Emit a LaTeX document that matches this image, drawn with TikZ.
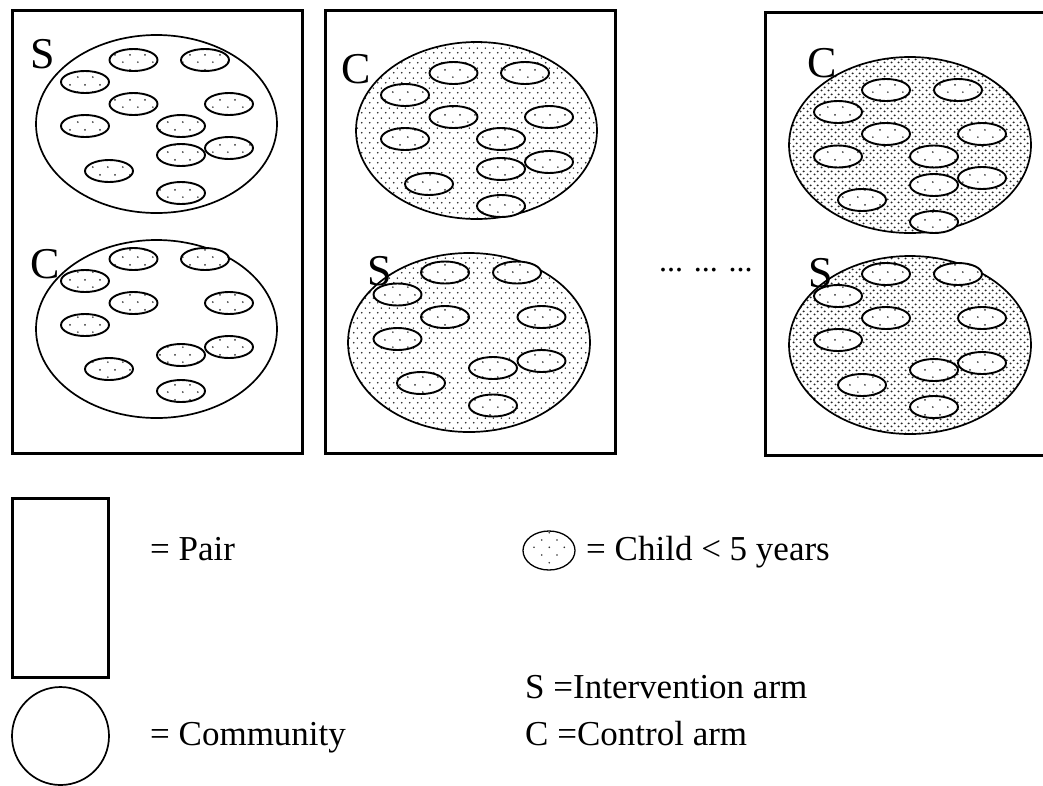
\documentclass[tikz,border=0pt]{standalone}
\usepackage{fontspec}
\setmainfont{Liberation Serif}
\usetikzlibrary{patterns.meta}

\tikzdeclarepattern{name=kiddots, type=uncolored,
  bounding box={(0pt,0pt) and (15pt,15pt)}, tile size={(15pt,15pt)},
  code={\fill (3pt,3pt) circle (1pt); \fill (10.5pt,10.5pt) circle (1pt);}}
\tikzdeclarepattern{name=sparsedots, type=uncolored,
  bounding box={(0pt,0pt) and (8pt,10pt)}, tile size={(8pt,10pt)},
  code={\fill (2pt,2.5pt) circle (0.95pt); \fill (6pt,7.5pt) circle (0.95pt);}}
\tikzdeclarepattern{name=densedots, type=uncolored,
  bounding box={(0pt,0pt) and (6.6pt,7pt)}, tile size={(6.6pt,7pt)},
  code={\fill (1.65pt,1.75pt) circle (1.15pt); \fill (4.95pt,5.25pt) circle (1.15pt);}}

\newcommand\kidell[2]{\draw[kid] (#1,#2) ellipse [x radius=24, y radius=11];}

\begin{document}
\begin{tikzpicture}[x=1pt,y=-1pt,
  pairbox/.style={line width=3pt},
  community/.style={line width=1.7pt},
  kid/.style={line width=1.9pt, preaction={fill=white}, pattern=kiddots, pattern color=black!80},
  lbl/.style={inner sep=0pt, anchor=base west, font=\fontsize{44}{44}\selectfont},
  leg/.style={inner sep=0pt, anchor=base west, font=\fontsize{35}{35}\selectfont}]
\useasboundingbox (0,0) rectangle (1043,785);
\clip (0,0) rectangle (1043,785);

% ---------------- pair boxes
\draw[pairbox] (12,10) rectangle (302,453);
\draw[pairbox] (325,10) rectangle (615,453);
\draw[pairbox] (765,12) rectangle (1050,455);

% ---------------- box 1 : S
\draw[community] (156.5,124) ellipse [x radius=120.5, y radius=89];
\foreach \a/\b in {133.5/60,205/60,85/82,133.5/104,229/104,85/126,181/126,181/155,229/148,109/171,181/193}
  {\kidell{\a}{\b}}
\node[lbl] (s1) at (30,68) {S};

% ---------------- box 1 : C
\draw[community] (156.5,329) ellipse [x radius=120.5, y radius=89];
\foreach \a/\b in {133.5/259,205/259,85/281,133.5/303,229/303,85/325,181/355,229/347,109/369,181/391}
  {\kidell{\a}{\b}}
\node[lbl] (c1) at (30,278) {C};

% ---------------- box 2 : C
\draw[community, pattern=sparsedots, pattern color=black!85] (476.5,130.5) ellipse [x radius=120.5, y radius=88.5];
\foreach \a/\b in {453.5/73,525/73,405/95,453.5/117,549/117,405/139,501/139,501/169,549/162,429/184,501/206}
  {\kidell{\a}{\b}}
\node[lbl] (c2) at (341,83) {C};

% ---------------- box 2 : S
\draw[community, pattern=sparsedots, pattern color=black!85] (469,342.5) ellipse [x radius=121, y radius=89.5];
\foreach \a/\b in {445/272.5,517/272.5,397.5/294.5,445/317,541.5/317,397.5/339,493/368,541.5/361,421/383,493/405.5}
  {\kidell{\a}{\b}}
\node[lbl] (s2) at (367,285) {S};

% ---------------- box 3 : C
\draw[community, pattern=densedots, pattern color=black!85] (910,145) ellipse [x radius=121, y radius=88];
\foreach \a/\b in {886/90,958/90,838/112,886/134,982/134,838/156.5,934/156.5,934/185,982/178,862/200,934/222}
  {\kidell{\a}{\b}}
\node[lbl] (c3) at (807,77) {C};

% ---------------- box 3 : S
\draw[community, pattern=densedots, pattern color=black!85] (910,345) ellipse [x radius=121, y radius=89];
\foreach \a/\b in {886/274,958/274,838/296,886/318,982/318,838/340,934/370,982/363,862/385,934/407}
  {\kidell{\a}{\b}}
\node[lbl] (s3) at (808,287) {S};

% ---------------- ellipsis between pairs
\node[inner sep=0pt, anchor=base west, font=\fontsize{32}{32}\selectfont] (dots) at (659,271) {... ... ...};

% ---------------- legend
\draw[pairbox] (12,498) rectangle (108,677);
\node[leg] (pair) at (150,560) {= Pair};
\draw[community] (60.5,736) ellipse [x radius=48.5, y radius=49];
\node[leg] (comm) at (150,745) {= Community};

\draw[line width=1.3pt] (549,550.5) ellipse [x radius=26, y radius=19.5];
\foreach \a/\b in {549.3/532.7,541.7/540,557/540,534/547.3,549.3/547.3,564.3/547.3,541.7/555,557/555,549.3/562.7}
  {\fill[black!80] (\a,\b) circle [radius=0.9];}
\node[leg] (child) at (586,560) {= Child < 5 years};
\node[leg] (sarm) at (525,698) {S =Intervention arm};
\node[leg] (carm) at (525,745) {C =Control arm};
\end{tikzpicture}
\end{document}
